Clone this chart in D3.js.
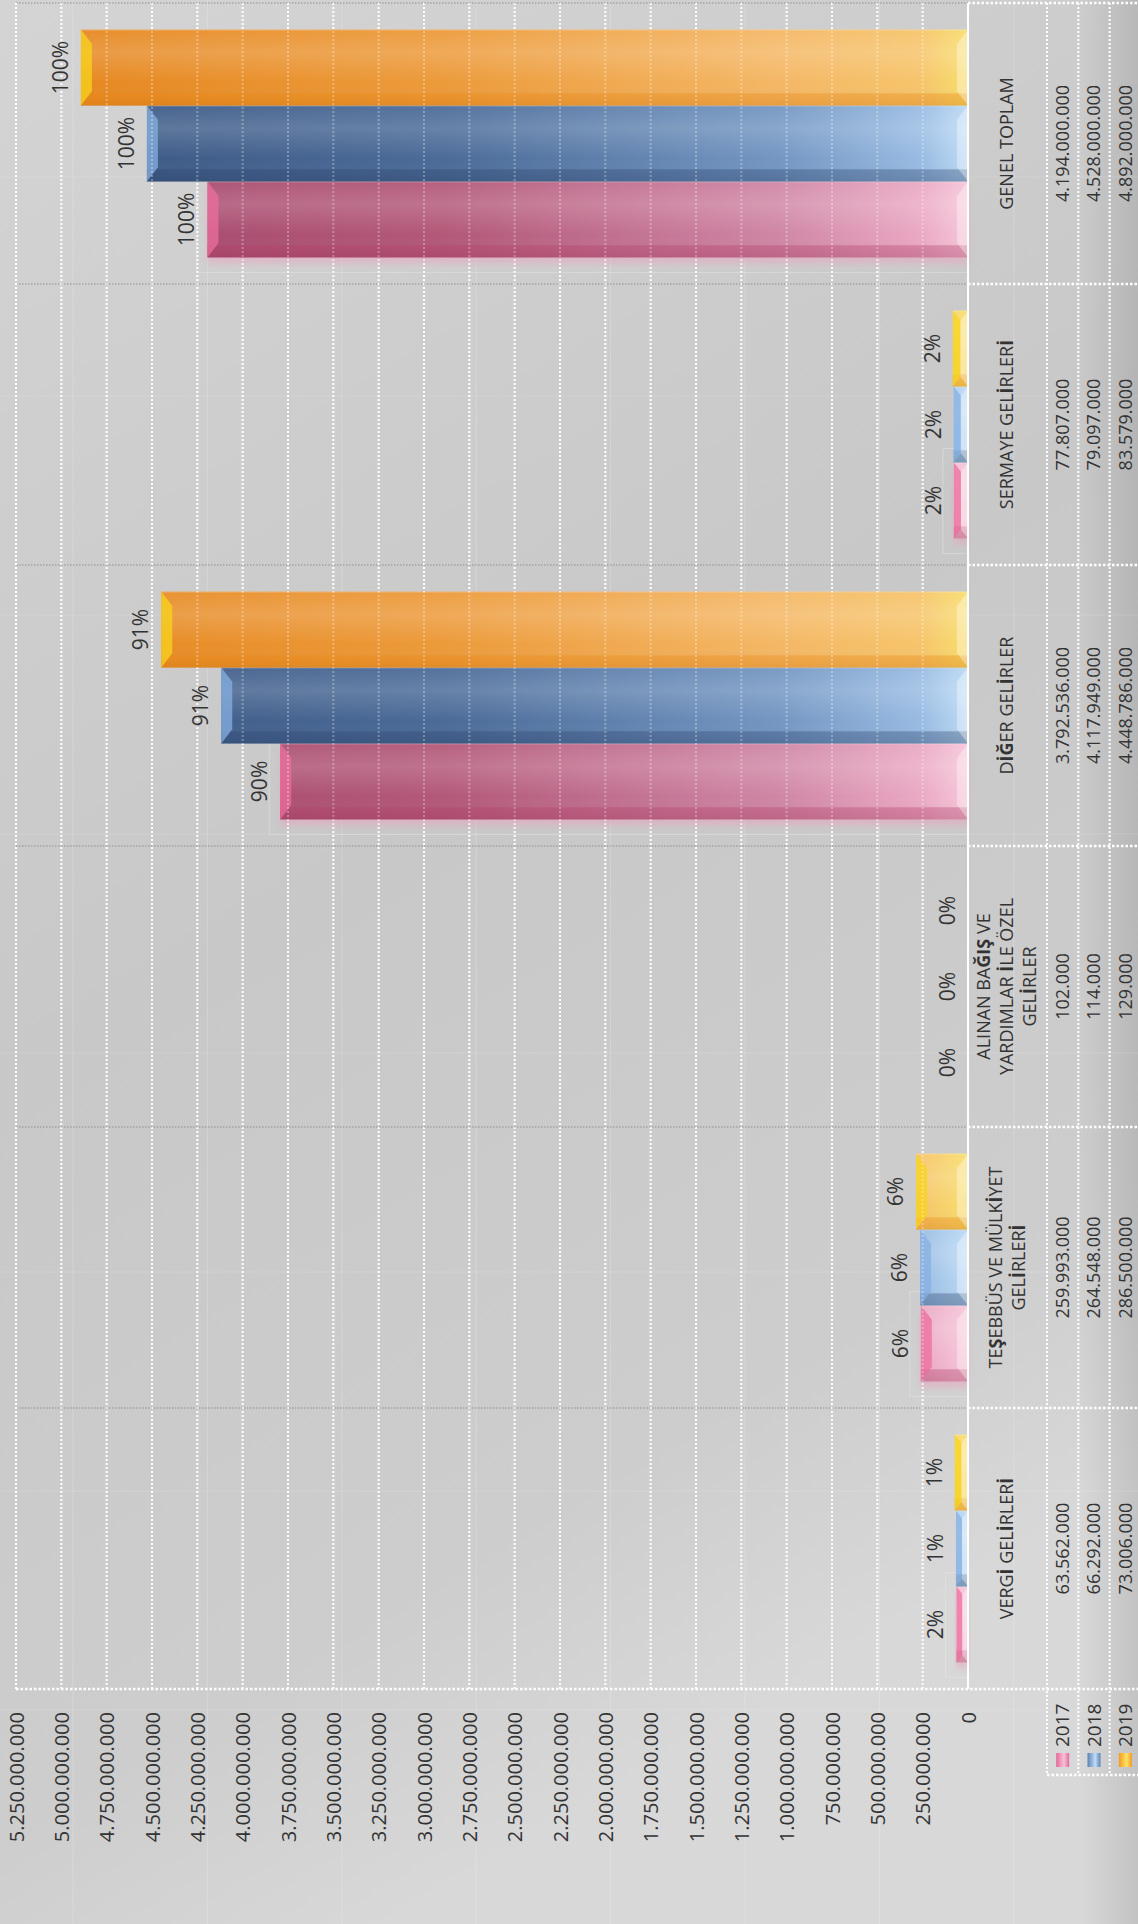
<!DOCTYPE html>
<html>
<head>
<meta charset="utf-8">
<script src="https://cdn.jsdelivr.net/npm/d3@7"></script>
<style>
  body { margin: 0; background: #cdcdcd; }
  svg text { font-family: 'Open Sans', sans-serif; fill: #333; }
</style>
</head>
<body>
<svg id="chart" width="1138" height="1924"></svg>
<script>
// ===== data =====
var categories = ['VERGİ GELİRLERİ', 'TEŞEBBÜS VE MÜLKİYET GELİRLERİ', 'ALINAN BAĞIŞ VE YARDIMLAR İLE ÖZEL GELİRLER', 'DİĞER GELİRLER', 'SERMAYE GELİRLERİ', 'GENEL TOPLAM']
var categoryLines = [['VERGİ GELİRLERİ'], ['TEŞEBBÜS VE MÜLKİYET', 'GELİRLERİ'], ['ALINAN BAĞIŞ VE', 'YARDIMLAR İLE ÖZEL', 'GELİRLER'], ['DİĞER GELİRLER'], ['SERMAYE GELİRLERİ'], ['GENEL TOPLAM']]
var years = ['2017', '2018', '2019']
var values2017 = [63562000, 259993000, 102000, 3792536000, 77807000, 4194000000]
var values2018 = [66292000, 264548000, 114000, 4117949000, 79097000, 4528000000]
var values2019 = [73006000, 286500000, 129000, 4448786000, 83579000, 4892000000]
var pct2017 = ['2%', '6%', '0%', '90%', '2%', '100%']
var pct2018 = ['1%', '6%', '0%', '91%', '2%', '100%']
var pct2019 = ['1%', '6%', '0%', '91%', '2%', '100%']
var tickValues = [0, 250000000, 500000000, 750000000, 1000000000, 1250000000, 1500000000, 1750000000, 2000000000, 2250000000, 2500000000, 2750000000, 3000000000, 3250000000, 3500000000, 3750000000, 4000000000, 4250000000, 4500000000, 4750000000, 5000000000, 5250000000]

var series = [
  { year: '2017', values: values2017, labels: pct2017 },
  { year: '2018', values: values2018, labels: pct2018 },
  { year: '2019', values: values2019, labels: pct2019 }
]

// colours for the 3d look
var barColors = {
  '2017': { stops: ['#a2456a', '#b35878', '#cf86a5', '#eaa8c3', '#f6c6d9'], bevel: '#ec6e9e', stripe: '#b83f6b', swatch: ['#e4689a', '#f6c2d7'] },
  '2018': { stops: ['#395580', '#4b6b98', '#7396c2', '#98bbe2', '#bcdaf5'], bevel: '#86b0e2', stripe: '#2d4872', swatch: ['#5b82b6', '#c2dcf3'] },
  '2019': { stops: ['#e5851d', '#ec9a3a', '#f4b765', '#f6c46a', '#f8de6e'], bevel: '#f7d41c', stripe: '#f18a10', swatch: ['#f59a1c', '#fbe26a'] }
}

var trFormat = d3.formatLocale({ decimal: ',', thousands: '.', grouping: [3], currency: ['', ''] }).format(',d')

var svg = d3.select('#chart')
var W = 1138
var H = 1924
var plotLeft = 16
var plotRight = 968
var plotTop = 3
var plotBottom = 1689
var tableRight = 1141
var legendBottom = 1775

var x = d3.scaleLinear().domain([0, 5250000000]).range([plotRight, plotLeft])
var y = d3.scaleBand().domain(categories.slice().reverse()).range([plotTop, plotBottom])
var yy = d3.scaleBand().domain(years.slice().reverse()).range([0, y.bandwidth()]).paddingOuter(0.35)
var col = d3.scaleBand().domain(years).range([1047, tableRight])

// ===== defs =====
var defs = svg.append('defs')

var bg = defs.append('linearGradient').attr('id', 'bg')
  .attr('x1', 0).attr('y1', 0).attr('x2', 0.35).attr('y2', 1)
bg.append('stop').attr('offset', 0).attr('stop-color', '#d4d4d4')
bg.append('stop').attr('offset', 0.5).attr('stop-color', '#c8c8c8')
bg.append('stop').attr('offset', 0.85).attr('stop-color', '#cdcdcd')
bg.append('stop').attr('offset', 1).attr('stop-color', '#d8d8d8')

var edge = defs.append('linearGradient').attr('id', 'edge')
  .attr('x1', 0).attr('y1', 0).attr('x2', 1).attr('y2', 0)
edge.append('stop').attr('offset', 0).attr('stop-color', '#000').attr('stop-opacity', 0)
edge.append('stop').attr('offset', 1).attr('stop-color', '#000').attr('stop-opacity', 0.1)

series.forEach(function (s) {
  var c = barColors[s.year]
  var g = defs.append('linearGradient').attr('id', 'h' + s.year)
    .attr('gradientUnits', 'userSpaceOnUse')
    .attr('x1', plotLeft).attr('y1', 0).attr('x2', plotRight).attr('y2', 0)
  var offs = [0, 0.45, 0.8, 0.95, 1]
  c.stops.forEach(function (col, i) {
    g.append('stop').attr('offset', offs[i]).attr('stop-color', col)
  })
  var sw = defs.append('linearGradient').attr('id', 'sw' + s.year)
    .attr('x1', 0).attr('y1', 0).attr('x2', 1).attr('y2', 0)
  sw.append('stop').attr('offset', 0).attr('stop-color', c.swatch[0])
  sw.append('stop').attr('offset', 0.6).attr('stop-color', c.swatch[1])
  sw.append('stop').attr('offset', 1).attr('stop-color', c.swatch[0])
})

var vshade = defs.append('linearGradient').attr('id', 'vshade')
  .attr('x1', 0).attr('y1', 0).attr('x2', 0).attr('y2', 1)
vshade.append('stop').attr('offset', 0).attr('stop-color', '#fff').attr('stop-opacity', 0.05)
vshade.append('stop').attr('offset', 0.3).attr('stop-color', '#fff').attr('stop-opacity', 0.16)
vshade.append('stop').attr('offset', 0.7).attr('stop-color', '#fff').attr('stop-opacity', 0)
vshade.append('stop').attr('offset', 1).attr('stop-color', '#000').attr('stop-opacity', 0.08)

defs.append('filter').attr('id', 'blur')
  .attr('x', -0.2).attr('y', -0.5).attr('width', 1.4).attr('height', 2)
  .append('feGaussianBlur').attr('stdDeviation', 3)

// ===== background =====
svg.append('rect').attr('width', W).attr('height', H).attr('fill', 'url(#bg)')
svg.append('rect').attr('x', 1080).attr('width', W - 1080).attr('height', H).attr('fill', 'url(#edge)')

// faint panel lines of the page background
svg.append('g').selectAll('line').data(d3.range(73, W, 134.4)).enter().append('line')
  .attr('x1', function (d) { return d }).attr('x2', function (d) { return d })
  .attr('y1', 0).attr('y2', H)
  .attr('stroke', '#fff').attr('stroke-opacity', 0.2)
svg.append('g').selectAll('line').data(d3.range(177, H, 219)).enter().append('line')
  .attr('y1', function (d) { return d }).attr('y2', function (d) { return d })
  .attr('x1', 0).attr('x2', W)
  .attr('stroke', '#fff').attr('stroke-opacity', 0.14)

// ===== grid =====
function drawGrid (opacity) {
  svg.append('g').selectAll('line').data(tickValues.slice(1)).enter().append('line')
    .attr('x1', function (d) { return x(d) }).attr('x2', function (d) { return x(d) })
    .attr('y1', plotTop).attr('y2', plotBottom)
    .attr('stroke', '#fff').attr('stroke-width', 2).attr('stroke-dasharray', '2,2')
    .attr('stroke-opacity', opacity)
}
drawGrid(0.95)

// category separators inside the plot (grey) and in the table (white)
var bounds = categories.map(function (c) { return y(c) })
svg.append('g').selectAll('line').data(bounds).enter().append('line')
  .attr('x1', plotLeft).attr('x2', plotRight)
  .attr('y1', function (d) { return d }).attr('y2', function (d) { return d })
  .attr('stroke', '#8e8e8e').attr('stroke-width', 1.2).attr('stroke-dasharray', '1.5,1.5')
svg.append('g').selectAll('line').data(bounds).enter().append('line')
  .attr('x1', plotRight).attr('x2', W)
  .attr('y1', function (d) { return d }).attr('y2', function (d) { return d })
  .attr('stroke', '#fff').attr('stroke-width', 2.5).attr('stroke-dasharray', '2.5,2')

// ===== bars =====
var barsG = svg.append('g')
series.forEach(function (s) {
  var c = barColors[s.year]
  s.values.forEach(function (v, i) {
    var cat = categories[i]
    var bx = x(v)
    var bw = x(0) - x(v)
    var by = y(cat) + yy(s.year)
    var bh = yy.bandwidth()
    if (bw < 0.5) return
    var g = barsG.append('g')
    if (s.year === '2017') {
      // soft pink glow below the front bar
      g.append('rect').attr('x', bx).attr('y', by + 6).attr('width', bw).attr('height', bh)
        .attr('fill', '#e9a3bf').attr('opacity', 0.55).attr('filter', 'url(#blur)')
    }
    g.append('rect').attr('x', bx).attr('y', by).attr('width', bw).attr('height', bh)
      .attr('fill', 'url(#h' + s.year + ')')
    g.append('rect').attr('x', bx).attr('y', by).attr('width', bw).attr('height', bh)
      .attr('fill', 'url(#vshade)')
    g.append('rect').attr('x', bx).attr('y', by + bh * 0.84).attr('width', bw).attr('height', bh * 0.16)
      .attr('fill', c.stripe).attr('opacity', 0.35)
    var capW = Math.min(11, bw / 2)
    var capH = Math.min(capW * 1.3, bh / 2)
    g.append('polygon')
      .attr('points', [[bx, by], [bx + capW, by + capH], [bx + capW, by + bh - capH], [bx, by + bh]].join(' '))
      .attr('fill', c.bevel).attr('opacity', 0.75)
    g.append('polygon')
      .attr('points', [[bx + bw, by], [bx + bw - capW, by + capH], [bx + bw - capW, by + bh - capH], [bx + bw, by + bh]].join(' '))
      .attr('fill', '#fff').attr('opacity', 0.35)
    g.append('line').attr('x1', bx).attr('x2', bx + bw).attr('y1', by + 0.5).attr('y2', by + 0.5)
      .attr('stroke', '#fff').attr('stroke-opacity', 0.25)
    if (s.year === '2017') {
      barsG.append('rect').attr('x', bx - 11).attr('y', by - 14).attr('width', bw + 11).attr('height', bh + 29)
        .attr('fill', 'none').attr('stroke', '#e6ecec').attr('stroke-opacity', 0.45)
    }
  })
})

// gridlines show faintly through the bars
drawGrid(0.3)

// zero line
svg.append('line').attr('x1', x(0)).attr('x2', x(0)).attr('y1', plotTop).attr('y2', plotBottom)
  .attr('stroke', '#fff').attr('stroke-width', 2)

// percentage labels
series.forEach(function (s) {
  svg.append('g').selectAll('text').data(s.values).enter().append('text')
    .attr('transform', function (d, i) {
      var cy = y(categories[i]) + yy(s.year) + yy.bandwidth() / 2
      return 'translate(' + (x(d) - 13) + ',' + cy + ') rotate(-90)'
    })
    .attr('text-anchor', 'middle')
    .style('font-size', '21px')
    .text(function (d, i) { return s.labels[i] })
})

// ===== value axis (bottom, rotated labels) =====
var axis = d3.axisBottom(x).tickValues(tickValues).tickSize(0).tickFormat(trFormat)
var axisG = svg.append('g').attr('transform', 'translate(0,' + plotBottom + ')').call(axis)
axisG.select('.domain').remove()
axisG.selectAll('text')
  .attr('transform', 'rotate(-90)')
  .attr('x', -23).attr('y', 0).attr('dy', '0.35em')
  .style('text-anchor', 'end')
  .style('font-size', '20px')
  .style('font-family', "'Open Sans', sans-serif")
  .attr('fill', '#333')

// bottom border of the plot, full width
svg.append('line').attr('x1', plotLeft).attr('x2', W).attr('y1', plotBottom).attr('y2', plotBottom)
  .attr('stroke', '#fff').attr('stroke-width', 2.5).attr('stroke-dasharray', '2.5,2')
svg.append('line').attr('x1', plotLeft).attr('x2', plotLeft).attr('y1', plotTop).attr('y2', plotBottom)
  .attr('stroke', '#fff').attr('stroke-width', 2).attr('stroke-dasharray', '2,2')

// ===== data table on the right =====
var colLines = years.map(function (yr) { return col(yr) })
svg.append('g').selectAll('line').data(colLines).enter().append('line')
  .attr('x1', function (d) { return d }).attr('x2', function (d) { return d })
  .attr('y1', plotTop).attr('y2', legendBottom)
  .attr('stroke', '#fff').attr('stroke-width', 2).attr('stroke-dasharray', '2,2')
svg.append('line').attr('x1', col('2017')).attr('x2', W).attr('y1', legendBottom).attr('y2', legendBottom)
  .attr('stroke', '#fff').attr('stroke-width', 2.5).attr('stroke-dasharray', '2.5,2')

// category names, Turkish capitals set in bold like the original
var catG = svg.append('g')
categories.forEach(function (cat, i) {
  var lines = categoryLines[i]
  var cy = y(cat) + y.bandwidth() / 2
  lines.forEach(function (line, j) {
    var lx = 1007 + (j - (lines.length - 1) / 2) * 23
    var t = catG.append('text')
      .attr('transform', 'translate(' + lx + ',' + cy + ') rotate(-90)')
      .attr('text-anchor', 'middle').attr('dy', '0.35em')
      .style('font-size', '18px')
    line.split(/(ĞIŞ|[İŞĞ])/).forEach(function (part) {
      if (!part) return
      t.append('tspan').text(part)
        .style('font-weight', /^(ĞIŞ|[İŞĞ])$/.test(part) ? 700 : 400)
    })
  })
})

series.forEach(function (s) {
  svg.append('g').selectAll('text').data(s.values).enter().append('text')
    .attr('transform', function (d, i) {
      var cy = y(categories[i]) + y.bandwidth() / 2
      return 'translate(' + (col(s.year) + col.bandwidth() / 2) + ',' + cy + ') rotate(-90)'
    })
    .attr('text-anchor', 'middle').attr('dy', '0.35em')
    .style('font-size', '18px')
    .text(function (d) { return trFormat(d) })
})

// ===== legend =====
var legend = svg.append('g').selectAll('g').data(years).enter().append('g')
  .attr('transform', function (d) { return 'translate(' + (col(d) + col.bandwidth() / 2) + ',0)' })
legend.append('text')
  .attr('transform', 'translate(0,1747) rotate(-90)')
  .attr('dy', '0.35em')
  .style('font-size', '19px')
  .text(function (d) { return d })
legend.append('rect')
  .attr('x', -6.5).attr('y', 1753).attr('width', 13).attr('height', 14)
  .attr('fill', function (d) { return 'url(#sw' + d + ')' })
</script>
</body>
</html>
